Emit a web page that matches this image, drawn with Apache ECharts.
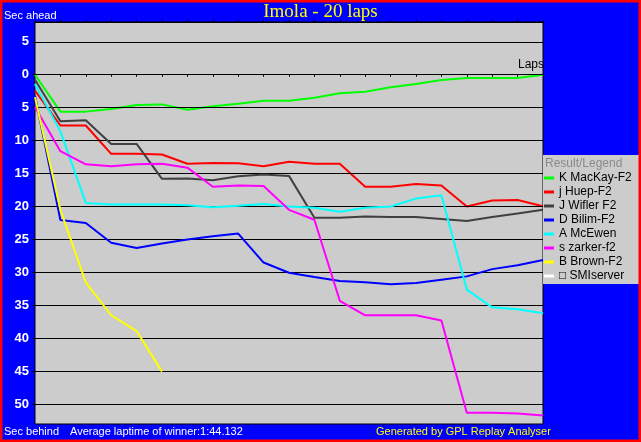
<!DOCTYPE html>
<html>
<head>
<meta charset="utf-8">
<script src="https://cdn.jsdelivr.net/npm/echarts@6/dist/echarts.min.js"></script>
<style>
html,body{margin:0;padding:0;background:#0000ff;}
#chart{width:641px;height:442px;}
</style>
</head>
<body>
<div id="chart"></div>
<script>
// Laps 0..20, seconds behind leader (negative = ahead)
var laps = [0,1,2,3,4,5,6,7,8,9,10,11,12,13,14,15,16,17,18,19,20];
var seriesNames = ['K MacKay-F2','j Huep-F2','J Wifler F2','D Bilim-F2','A McEwen','s zarker-f2','B Brown-F2','\u25A1 SMIserver'];
var mackay = [0, 5.6, 5.6, 5.2, 4.6, 4.5, 5.3, 4.8, 4.4, 3.95, 3.95, 3.5, 2.8, 2.6, 1.9, 1.4, 0.8, 0.5, 0.5, 0.5, 0];
var huep   = [2.4, 7.7, 7.7, 12.0, 12.0, 12.1, 13.5, 13.4, 13.45, 13.9, 13.2, 13.5, 13.5, 17.0, 17.0, 16.6, 16.8, 20.0, 19.1, 19.0, 19.95];
var wifler = [0.75, 7.05, 6.9, 10.5, 10.5, 15.8, 15.75, 16.0, 15.4, 15.15, 15.35, 21.7, 21.7, 21.5, 21.6, 21.6, 21.9, 22.2, 21.6, 21.05, 20.5];
var bilim  = [3.2, 22.05, 22.5, 25.5, 26.3, 25.6, 25.0, 24.5, 24.1, 28.5, 30.05, 30.7, 31.3, 31.5, 31.8, 31.6, 31.1, 30.6, 29.5, 28.9, 28.1];
var mcewen = [1.4, 8.6, 19.45, 19.7, 19.7, 19.7, 19.8, 20.1, 19.9, 19.6, 20.0, 20.2, 20.8, 20.2, 20.0, 18.8, 18.3, 32.6, 35.3, 35.6, 36.2];
var zarker = [4.9, 11.6, 13.6, 13.9, 13.6, 13.5, 14.1, 17.0, 16.8, 16.9, 20.5, 22.0, 34.3, 36.5, 36.5, 36.5, 37.3, 51.3, 51.3, 51.4, 51.7];
var brown  = [3.4, 20.5, 31.5, 36.5, 38.9, 45.05];
var smiserver = [];
var yTicks = [-5,0,5,10,15,20,25,30,35,40,45,50];
var colors = ['#00ff00','#ff0000','#404040','#0000ff','#00ffff','#ff00ff','#ffff00','#ffffff'];
var allData = [mackay, huep, wifler, bilim, mcewen, zarker, brown, smiserver];

function pairs(arr){ return arr.map(function(v,i){ return [laps[i], v]; }); }

var chart = echarts.init(document.getElementById('chart'), null, {renderer:'canvas'});

var series = [{
  type:'line', name:'grid', data:[], silent:true, z:1,
  markLine:{silent:true, symbol:['none','none'], label:{show:false},
    lineStyle:{color:'#000', width:1, type:'solid'},
    emphasis:{disabled:true},
    data: yTicks.map(function(v){ return {yAxis:v}; })}
}];
allData.forEach(function(d,i){
  series.push({type:'line', name:seriesNames[i], data:pairs(d), showSymbol:false, symbol:'none',
    lineStyle:{color:colors[i], width:2}, itemStyle:{color:colors[i]}, z:3+i, animation:false, silent:true});
});

var txt = function(t,l,tp,color,size,extra){
  var o = {text:t, left:l, top:tp, padding:0, textStyle:Object.assign({color:color, fontSize:size, fontWeight:'normal', fontFamily:'Liberation Sans'}, extra||{})};
  return o;
};

chart.setOption({
  animation:false,
  backgroundColor:'#0000ff',
  title:[
    txt('Imola - 20 laps','center',3,'#ffff00',19,{fontFamily:'Liberation Serif'}),
    txt('Sec ahead',4,10,'#ffffff',11),
    txt('Sec behind',4,426,'#ffffff',11),
    txt('Average laptime of winner:1:44.132',70,426,'#ffffff',11),
    txt('Generated by GPL Replay Analyser',376,426,'#ffff00',11),
    txt('Result/Legend',545,158,'#8a8a8a',12)
  ],
  grid:{left:35, top:22, right:98, bottom:18, show:true, backgroundColor:'#cccccc', borderColor:'#000', borderWidth:1},
  legend:{orient:'vertical', left:544, top:171, padding:0, itemGap:0, itemWidth:10, itemHeight:3, icon:'rect',
    data:seriesNames, selectedMode:false,
    textStyle:{color:'#000', fontSize:12, lineHeight:14, fontFamily:'Liberation Sans'}},
  xAxis:[{type:'value', min:0, max:20, interval:1, position:'bottom',
      axisLine:{onZero:true, lineStyle:{color:'#000', width:1}},
      axisTick:{show:true, length:2, lineStyle:{color:'#000'}},
      axisLabel:{show:false}, splitLine:{show:false},
      name:'Laps', nameLocation:'end', nameGap:-25,
      nameTextStyle:{color:'#000', fontSize:12, align:'left', verticalAlign:'bottom', padding:[0,0,4,0], fontFamily:'Liberation Sans'}},
    {type:'value', min:0, max:20, interval:1, position:'top',
      axisLine:{onZero:true, lineStyle:{color:'#000', width:1}},
      axisTick:{show:true, length:2, lineStyle:{color:'#000'}},
      axisLabel:{show:false}, splitLine:{show:false}}],
  yAxis:{type:'value', inverse:true, min:-8, max:53,
    axisLine:{show:false},
    axisTick:{show:true, length:3, customValues:yTicks, lineStyle:{color:'#000'}},
    axisLabel:{customValues:yTicks, formatter:function(v){return String(Math.abs(v));}, color:'#fff', fontWeight:'bold', fontSize:13, margin:6, fontFamily:'Liberation Sans'},
    splitLine:{show:false}},
  graphic:[
    {type:'rect', z:0, shape:{x:543, y:155, width:96, height:129}, style:{fill:'#cccccc'}},
    {type:'rect', z:100, silent:true, shape:{x:0, y:0, width:641, height:442}, style:{fill:'none', stroke:'#ff0000', lineWidth:5}}
  ],
  series:series
});
</script>
</body>
</html>
